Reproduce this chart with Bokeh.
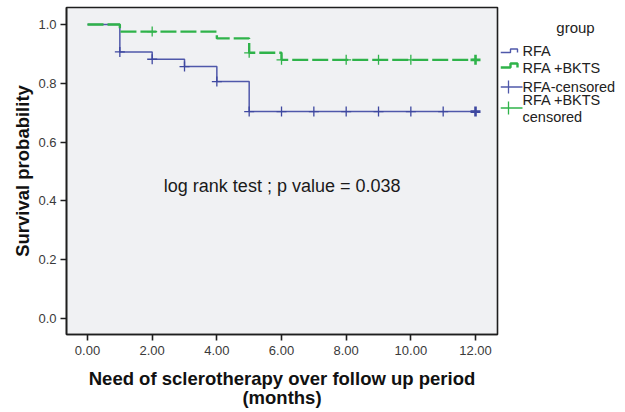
from bokeh.plotting import figure
from bokeh.models import Range1d, FixedTicker, NumeralTickFormatter, Label
from bokeh.layouts import row
from bokeh.embed import file_html
from bokeh.resources import INLINE

# ---- data ----
rfa_times = [0, 1, 2, 3, 4, 5, 12]
rfa_surv = [1.0, 0.907, 0.882, 0.857, 0.806, 0.704, 0.704]
bkts_times = [0, 1, 4, 5, 6, 12]
bkts_surv = [1.0, 0.976, 0.953, 0.904, 0.880, 0.880]
rfa_censor_times = [1, 2, 3, 4, 5, 6, 7, 8, 9, 10, 11, 12]
rfa_censor_n = [1, 1, 1, 1, 1, 1, 1, 1, 1, 1, 1, 3]
bkts_censor_times = [2, 5, 6, 8, 9, 10, 12]
bkts_censor_n = [1, 1, 1, 1, 1, 1, 3]
x_ticks = [0, 2, 4, 6, 8, 10, 12]
y_ticks = [0.0, 0.2, 0.4, 0.6, 0.8, 1.0]
group_names = ["RFA", "RFA +BKTS", "RFA-censored", "RFA +BKTS\ncensored"]
legend_title = "group"
note_text = "log rank test ; p value = 0.038"
note_pos = (6.02, 0.452)
x_title = "Need of sclerotherapy over follow up period\n(months)"
y_title = "Survival probability"

BLUE = "#4f58aa"
BLUE_MARK = "#3e48a0"
GREEN = "#2fb34a"
FONT = "Liberation Sans"


def surv_at(times, surv, t):
    s = surv[0]
    for ti, si in zip(times, surv):
        if ti <= t:
            s = si
    return s


p = figure(width=500, height=412, output_backend="svg", toolbar_location=None,
           x_range=Range1d(-0.65, 12.68), y_range=Range1d(-0.054, 1.058),
           min_border_left=66, min_border_right=3, min_border_top=7, min_border_bottom=78)
p.background_fill_color = "#f0f1f3"
p.border_fill_color = "white"
p.outline_line_color = "#1e1e1e"
p.outline_line_width = 1.6
p.xgrid.visible = False
p.ygrid.visible = False

# survival curves
p.step(rfa_times, rfa_surv, mode="after", line_color=BLUE, line_width=1.5)
p.step(bkts_times, bkts_surv, mode="after", line_color=GREEN, line_width=2.4,
       line_dash="16 4")

# censor marks
rc_y = [surv_at(rfa_times, rfa_surv, t) for t in rfa_censor_times]
bc_y = [surv_at(bkts_times, bkts_surv, t) for t in bkts_censor_times]
p.scatter(rfa_censor_times, rc_y, marker="cross", size=10, line_color=BLUE_MARK,
          line_width=[1.3 if n == 1 else 2.6 for n in rfa_censor_n])
p.scatter(bkts_censor_times, bc_y, marker="cross", size=10, line_color=GREEN,
          line_width=[1.3 if n == 1 else 2.6 for n in bkts_censor_n])

p.add_layout(Label(x=note_pos[0], y=note_pos[1], text=note_text, text_align="center",
                   text_baseline="middle", text_font=FONT, text_font_size="18px",
                   text_color="#1a1a1a"))

for ax in (p.xaxis[0], p.yaxis[0]):
    ax.axis_line_color = "#1e1e1e"
    ax.axis_line_width = 1.6
    ax.major_tick_in = 0
    ax.major_tick_out = 6
    ax.major_tick_line_color = "#1e1e1e"
    ax.major_tick_line_width = 1.6
    ax.minor_tick_line_color = None
    ax.major_label_text_font = FONT
    ax.major_label_text_font_size = "13px"
    ax.major_label_text_color = "#3a3a3a"
    ax.axis_label_text_font = FONT
    ax.axis_label_text_font_size = "18.5px"
    ax.axis_label_text_font_style = "bold"
    ax.axis_label_text_color = "#111111"
    ax.axis_label_text_line_height = 0.95

p.xaxis.ticker = FixedTicker(ticks=x_ticks)
p.yaxis.ticker = FixedTicker(ticks=y_ticks)
p.xaxis.formatter = NumeralTickFormatter(format="0.00")
p.yaxis.formatter = NumeralTickFormatter(format="0.0")
p.xaxis.axis_label = x_title
p.yaxis.axis_label = y_title
p.xaxis.major_label_standoff = 5
p.xaxis.axis_label_standoff = 10
p.yaxis.major_label_standoff = 4
p.yaxis.axis_label_standoff = 2

# ---- legend panel (pixel-like coordinates, y downward; frame aligned with plot frame top) ----
lg = figure(width=125, height=412, frame_width=125, frame_height=412,
            output_backend="svg", toolbar_location=None,
            x_range=Range1d(0, 125), y_range=Range1d(419.5, 7.5),
            x_axis_location=None, y_axis_location=None,
            min_border=0, min_border_left=0, min_border_right=0,
            min_border_top=0, min_border_bottom=0, title=None)
lg.outline_line_color = None
lg.background_fill_color = "white"
lg.border_fill_color = "white"
lg.xgrid.visible = False
lg.ygrid.visible = False

lg.add_layout(Label(x=75, y=27, text=legend_title, text_align="center", text_baseline="middle",
                    text_font=FONT, text_font_size="15px", text_color="#222222"))
# step icons
lg.line([0, 10, 10, 17, 17], [52.5, 52.5, 49, 49, 52.5], line_color=BLUE, line_width=1.4)
lg.line([0, 10, 10, 17, 17], [67.5, 67.5, 63.5, 63.5, 67.5], line_color=GREEN, line_width=2.4)
# cross icons
lg.line([0, 22], [87, 87], line_color=BLUE, line_width=1.3)
lg.line([8, 8], [80.5, 93.5], line_color=BLUE, line_width=1.3)
lg.line([0, 22], [108, 108], line_color=GREEN, line_width=1.3)
lg.line([8, 8], [101.5, 114.5], line_color=GREEN, line_width=1.3)

label_y = [50.5, 68, 87, 100]
for name, yy in zip(group_names, label_y):
    for k, part in enumerate(name.split("\n")):
        lg.add_layout(Label(x=22, y=yy + 16.5 * k, text=part, text_align="left",
                            text_baseline="middle", text_font=FONT,
                            text_font_size="14.5px", text_color="#222222"))

layout = row(p, lg)
open("out.html", "w").write(file_html(layout, INLINE))
